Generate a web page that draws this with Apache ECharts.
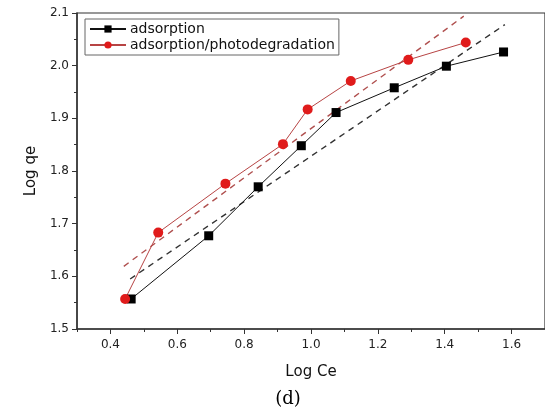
<!DOCTYPE html>
<html><head><meta charset="utf-8">
<script src="https://cdn.jsdelivr.net/npm/echarts@6/dist/echarts.min.js"></script>
<style>html,body{margin:0;padding:0;background:#fff;overflow:hidden}#c{width:545px;height:408px}</style>
</head><body><div id="c"></div>
<script>
const adsX = [0.462, 0.694, 0.842, 0.971, 1.075, 1.249, 1.405, 1.576];
const adsY = [1.557, 1.677, 1.770, 1.848, 1.911, 1.958, 1.999, 2.026];
const photoX = [0.444, 0.543, 0.744, 0.916, 0.990, 1.119, 1.291, 1.463];
const photoY = [1.557, 1.683, 1.776, 1.851, 1.917, 1.971, 2.011, 2.044];
const adsFitX = [0.459, 1.580];
const adsFitY = [1.595, 2.078];
const photoFitX = [0.440, 1.457];
const photoFitY = [1.619, 2.094];
const xTickLabels = [0.4, 0.6, 0.8, 1.0, 1.2, 1.4, 1.6];
const seriesNames = ['adsorption', 'adsorption/photodegradation'];

const zip = (xs, ys) => xs.map((x, i) => [x, ys[i]]);
const font = 'DejaVu Sans, Verdana, sans-serif';
const axisCol = '#333';
const chart = echarts.init(document.getElementById('c'));
chart.setOption({
  animation: false,
  backgroundColor: '#fff',
  grid: { left: 77, top: 13, bottom: 79, width: 472.5, show: true, borderColor: axisCol, borderWidth: 1.2, backgroundColor: 'transparent' },
  title: { text: '(d)', left: 283, top: 385, textAlign: 'center', textStyle: { fontFamily: 'DejaVu Serif, serif', fontSize: 18, fontWeight: 'normal', color: '#000' } },
  legend: {
    data: seriesNames, orient: 'vertical', left: 85, top: 19, padding: [3, 4, 3, 4],
    itemWidth: 36, itemHeight: 9, itemGap: 2,
    borderColor: '#666', borderWidth: 1, backgroundColor: '#fff',
    textStyle: { fontFamily: font, fontSize: 14, color: '#111', padding: [0, 0, 0, -1] }
  },
  xAxis: [{
    type: 'value', min: 0.3, max: 1.7,
    name: 'Log Ce', nameLocation: 'middle', nameGap: 36,
    nameTextStyle: { fontFamily: font, fontSize: 15, color: '#111' },
    axisLine: { lineStyle: { color: axisCol, width: 1.5 } },
    axisTick: { inside: false, length: 5, customValues: xTickLabels, lineStyle: { color: axisCol } },
    splitLine: { show: false },
    axisLabel: { fontFamily: font, fontSize: 12, color: '#222', margin: 10, customValues: xTickLabels, formatter: v => v.toFixed(1) }
  }, {
    type: 'value', min: 0.3, max: 1.7, interval: 0.1, position: 'bottom', gridIndex: 0,
    axisLine: { show: false },
    axisTick: { inside: false, length: 3, lineStyle: { color: axisCol } },
    axisLabel: { show: false }, splitLine: { show: false }
  }],
  yAxis: {
    type: 'value', min: 1.5, max: 2.1, interval: 0.1,
    name: 'Log qe', nameLocation: 'middle', nameGap: 38, nameRotate: 90,
    nameTextStyle: { fontFamily: font, fontSize: 15, color: '#111' },
    axisLine: { lineStyle: { color: axisCol, width: 1.5 } },
    axisTick: { inside: false, length: 5, lineStyle: { color: axisCol } },
    minorTick: { show: true, splitNumber: 2, length: 3, lineStyle: { color: axisCol } },
    splitLine: { show: false },
    axisLabel: { fontFamily: font, fontSize: 12, color: '#222', margin: 8, formatter: v => v.toFixed(1) }
  },
  series: [
    { name: 'adsFit', type: 'line', data: zip(adsFitX, adsFitY), symbol: 'none', silent: true,
      lineStyle: { color: '#333', width: 1.4, type: [6, 5] } },
    { name: 'photoFit', type: 'line', data: zip(photoFitX, photoFitY), symbol: 'none', silent: true,
      lineStyle: { color: '#b0504f', width: 1.4, type: [6, 5] } },
    { name: seriesNames[0], type: 'line', data: zip(adsX, adsY), symbol: 'rect', symbolSize: 9,
      itemStyle: { color: '#000' }, lineStyle: { color: '#111', width: 1 } },
    { name: seriesNames[1], type: 'line', data: zip(photoX, photoY), symbol: 'circle', symbolSize: 10,
      itemStyle: { color: '#e01b1b' }, lineStyle: { color: '#b74444', width: 1 } }
  ]
});
</script></body></html>
